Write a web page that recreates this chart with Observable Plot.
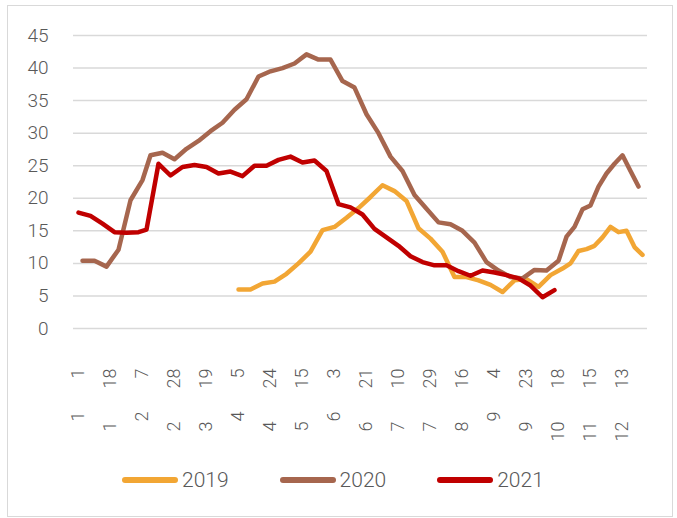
<!DOCTYPE html>
<html><head><meta charset="utf-8">
<script src="https://cdn.jsdelivr.net/npm/d3@7"></script>
<script src="https://cdn.jsdelivr.net/npm/@observablehq/plot@0.6"></script>
<style>
body{margin:0;background:#fff;font-family:Roboto,"Open Sans",sans-serif;}
#frame{position:absolute;left:7px;top:5px;width:666px;height:512px;border:1.5px solid #d9d9d9;box-sizing:border-box;}
#chart{position:absolute;left:0;top:0;}
#legend{position:absolute;top:467px;left:122px;display:flex;align-items:center;font-size:21px;font-weight:300;color:#595959;line-height:26px;}
.item{display:flex;align-items:center;margin-right:51px;}
.sw{width:56px;height:6px;border-radius:3px;margin-right:4px;}
</style></head><body>
<div id="frame"></div><div id="chart"></div><div id="legend"></div>
<script>
// Series (weekly observations, each year's own weekly dates)
const seriesNames = ["2019", "2020", "2021"];
const seriesColors = ["#F2A634", "#A6664E", "#C00000"];
const start2019 = "2019-01-04";
const start2020 = "2020-01-03";
const start2021 = "2021-01-01";
const skipped2019 = ["2019-02-08"];
const v2019 = [null, null, null, null, null, null, null, null, null, null, null, null,
  6.0, 6.0, 6.9, 7.2, 8.4, 10.0, 11.8, 15.1, 15.6, 17.0, 18.5, 20.2, 22.0, 21.1, 19.6, 15.4,
  13.8, 11.8, 7.9, 7.9, 7.4, 6.7, 5.6, 7.4, 7.6, 6.4, 8.2, 9.2, 10.0, 11.9, 12.2, 12.7,
  14.0, 15.6, 14.8, 15.0, 12.5, 11.3];
const v2020 = [10.4, 10.4, 9.5, 12.1, 19.7, 22.8, 26.6, 27.0, 26.0, 27.6,
  28.8, 30.3, 31.6, 33.6, 35.2, 38.7, 39.5, 40.0, 40.7, 42.1,
  41.3, 41.3, 38.0, 37.0, 32.9, 30.0, 26.4, 24.2, 20.5, 18.4,
  16.3, 16.0, 15.0, 13.2, 10.2, 8.9, 7.9, 7.7, 9.0, 8.9,
  10.4, 14.1, 15.6, 18.3, 18.9, 21.8, 23.8, 25.3, 26.6, 24.2, 21.8];
const v2021 = [17.8, 17.3, 16.1, 14.8, 14.7, 14.8, 15.2, 25.3, 23.5, 24.8,
  25.1, 24.8, 23.8, 24.1, 23.4, 25.0, 25.0, 25.9, 26.4, 25.5,
  25.8, 24.2, 19.1, 18.6, 17.5, 15.3, 14.0, 12.7, 11.1, 10.2,
  9.7, 9.7, 8.8, 8.1, 8.9, 8.6, 8.2, 7.7, 6.6, 4.8, 5.9];
const tickLabels = ["1 1", "1 18", "2 7", "2 28", "3 19", "4 5", "4 24", "5 15", "6 3",
  "6 21", "7 10", "7 29", "8 16", "9 4", "9 23", "10 18", "11 15", "12 13"];
const tickEvery = 8;
const yTicks = [0, 5, 10, 15, 20, 25, 30, 35, 40, 45];

function weeklyDates(start, count, skip = []) {
  const out = [];
  let t = Date.parse(start + "T00:00:00Z");
  while (out.length < count) {
    const iso = new Date(t).toISOString().slice(0, 10);
    if (!skip.includes(iso)) out.push(iso);
    t += 7 * 864e5;
  }
  return out;
}
const inputs = [
  [seriesNames[0], weeklyDates(start2019, v2019.length, skipped2019), v2019],
  [seriesNames[1], weeklyDates(start2020, v2020.length), v2020],
  [seriesNames[2], weeklyDates(start2021, v2021.length), v2021]
];
const rows = inputs.flatMap(([series, dates, vals]) =>
  dates.map((d, i) => ({series, key: d.slice(5), value: vals[i]})));
const categories = Array.from(new Set(rows.map(r => r.key))).sort();
const tickKeys = categories.filter((d, i) => i % tickEvery === 0).slice(0, tickLabels.length);
const labelMap = new Map(tickKeys.map((k, i) => [k, tickLabels[i].replace(" ", "\u2003\u2002\u2009\u200A")]));

const chart = Plot.plot({
  width: 677, height: 445,
  marginLeft: 73, marginRight: 30, marginTop: 35, marginBottom: 117,
  style: {fontFamily: "Roboto, sans-serif", fontSize: "19px", fontWeight: 300, color: "#595959", background: "transparent"},
  x: {type: "point", domain: categories, padding: 0.5, label: null},
  y: {domain: [0, 45], label: null},
  color: {domain: seriesNames, range: seriesColors},
  marks: [
    Plot.ruleY(yTicks, {stroke: "#d9d9d9", strokeWidth: 1.5}),
    Plot.axisY({ticks: yTicks, tickSize: 0, tickPadding: 25, label: null, fontSize: 19}),
    Plot.axisX({ticks: tickKeys, tickFormat: d => labelMap.get(d), tickRotate: -90, tickSize: 0, tickPadding: 40, label: null, fontSize: 18}),
    Plot.line(rows, {x: "key", y: "value", stroke: "series", z: "series", strokeWidth: 4.5, strokeLinecap: "round", strokeLinejoin: "round"})
  ]
});
document.getElementById("chart").appendChild(chart);

const legend = document.getElementById("legend");
seriesNames.forEach((name, i) => {
  const item = document.createElement("div");
  item.className = "item";
  const sw = document.createElement("div");
  sw.className = "sw";
  sw.style.background = seriesColors[i];
  const label = document.createElement("span");
  label.textContent = name;
  item.appendChild(sw); item.appendChild(label);
  legend.appendChild(item);
});
</script></body></html>
